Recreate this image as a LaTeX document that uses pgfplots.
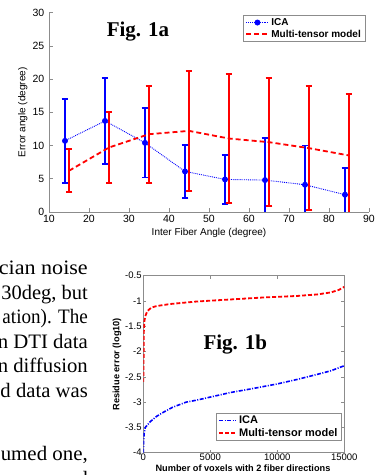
\documentclass[border=0pt]{standalone}
\usepackage{graphicx}
\usepackage{pgfplots}
\pgfplotsset{compat=1.18}
\usepackage{fontspec}
\setmainfont{Liberation Serif}
\newfontfamily\arial{Liberation Sans}
\definecolor{axgray}{RGB}{140,140,140}
\begin{document}
\begin{tikzpicture}
\useasboundingbox (0,0) rectangle (385pt,475pt);
\clip (0,0) rectangle (385pt,475pt);
\begin{scope}[every node/.style={anchor=base east, inner sep=0pt, font=\fontsize{20.5}{24}\selectfont}]
\node at (88pt,200pt) {\resizebox{89pt}{\height}{cian noise}};
\node at (88pt,175.5pt) {\resizebox{86.3pt}{\height}{30deg, but}};
\node at (88pt,151pt) {\resizebox{85.3pt}{\height}{ation). The}};
\node at (88pt,126.5pt) {\resizebox{90pt}{\height}{n DTI data}};
\node at (88pt,102pt) {\resizebox{90pt}{\height}{n diffusion}};
\node at (88pt,77.5pt) {\resizebox{87.3pt}{\height}{d data was}};
\node at (88pt,14pt) {\resizebox{87pt}{\height}{umed one,}};
\node at (88pt,-10.4pt) {and};
\end{scope}
% ---------------- Fig 1a ----------------
\begin{axis}[
  at={(49pt,263pt)}, anchor=south west,
  scale only axis, width=320pt, height=199.5pt,
  xmin=10, xmax=90, ymin=0, ymax=30,
  xtick={10,20,30,40,50,60,70,80,90},
  ytick={0,5,10,15,20,25,30},
  axis lines*=left,
  axis line style={axgray, line width=0.7pt},
  tick style={axgray, line width=0.5pt},
  tick align=inside, major tick length=3.5pt,
  /pgf/number format/assume math mode=true,
  ticklabel style={font=\arial\fontsize{10.5}{12}\selectfont},
  yticklabel style={inner sep=4.5pt},
  xlabel={Inter Fiber Angle (degree)},
  ylabel={Error angle (degree)},
  label style={font=\arial\fontsize{10}{12}\selectfont},
  xlabel style={at={(axis description cs:0.5,-0.105)}, anchor=center},
  ylabel style={at={(axis description cs:-0.082,0.5)}, anchor=center},
  legend style={at={(axis description cs:0.9875,0.987)}, anchor=north east,
    draw=axgray, font=\arial\bfseries\fontsize{10}{11}\selectfont,
    inner xsep=2pt, inner ysep=1pt, row sep=-1pt, cells={anchor=west}},
  legend image code/.code={\draw[mark repeat=2,mark phase=2,#1] plot coordinates {(0pt,0pt) (11pt,0pt) (22pt,0pt)};},
]
\addplot[blue, densely dotted, line width=0.9pt, mark=*, mark size=2.5pt,
  mark options={solid, fill=blue},
  error bars/.cd, y dir=both, y explicit,
  error bar style={solid, line width=1.8pt},
  error mark options={rotate=90, mark size=3.3pt, line width=1.8pt, solid}]
  table[x=x, y=y, y error=e] {
x y e
14 10.7 6.35
24 13.7 6.5
34 10.4 5.2
44 6.1 4.0
54 4.9 3.7
64 4.8 6.3
74 4.1 5.9
84 2.6 4.0
};
\addplot[red, dash pattern=on 5pt off 3pt, line width=1.8pt,
  error bars/.cd, y dir=both, y explicit,
  error bar style={solid, line width=1.8pt},
  error mark options={rotate=90, mark size=3.3pt, line width=1.8pt, solid}]
  table[x=x, y=y, y error=e] {
x y e
15 6.2 3.25
25 9.7 5.3
35 11.7 7.3
45 12.2 9.0
55 11.05 9.75
65 10.5 9.6
75 9.6 9.3
85 8.5 9.3
};
\legend{ICA, Multi-tensor model}
\end{axis}
\node[anchor=base, inner sep=0pt, font=\bfseries\fontsize{21}{24}\selectfont] at (138pt,438.5pt) {Fig. 1a};
% ---------------- Fig 1b ----------------
\begin{axis}[
  at={(143.3pt,22.3pt)}, anchor=south west,
  scale only axis, width=201pt, height=177pt,
  xmin=0, xmax=15000, ymin=-4, ymax=-0.5,
  xtick={0,5000,10000,15000}, xticklabels={0,5000,10000,15000},
  scaled x ticks=false,
  ytick={-4,-3.5,-3,-2.5,-2,-1.5,-1,-0.5},
  yticklabels={-4,-3.5,-3,-2.5,-2,-1.5,-1,-0.5},
  axis line style={axgray, line width=0.7pt},
  tick style={axgray, line width=0.5pt},
  tick align=inside, major tick length=3pt,
  ticklabel style={font=\arial\fontsize{9.5}{11}\selectfont},
  yticklabel style={inner sep=1.5pt},
  xticklabel style={inner sep=1.2pt},
  xlabel={Number of voxels with 2 fiber directions},
  ylabel={Residue error (log10)},
  label style={font=\arial\bfseries\fontsize{9.2}{11}\selectfont},
  xlabel style={at={(axis description cs:0.496,-0.086)}, anchor=center},
  ylabel style={at={(axis description cs:-0.131,0.5)}, anchor=center},
  legend style={at={(axis description cs:0.987,0.226)}, anchor=north east,
    draw=axgray, font=\arial\bfseries\fontsize{11}{12}\selectfont,
    inner xsep=2pt, inner ysep=1pt, row sep=-1pt, cells={anchor=west}},
  legend image code/.code={\draw[#1] (0pt,0pt) -- (17pt,0pt);},
]
\addplot[blue, dash pattern=on 4pt off 1.5pt on 1pt off 1.5pt, line width=1.6pt] table {
0 -4.0
20 -3.8
60 -3.62
150 -3.5
500 -3.39
1000 -3.28
1500 -3.2
2200 -3.1
3200 -3.0
4000 -2.96
5000 -2.9
6500 -2.81
8000 -2.74
9000 -2.69
10000 -2.64
11500 -2.55
13000 -2.45
14000 -2.38
15000 -2.28
};
\addplot[red, dash pattern=on 4pt off 2pt, line width=1.8pt] table {
0 -2.6
20 -2.2
40 -1.6
80 -1.4
150 -1.3
300 -1.2
600 -1.13
1000 -1.1
2000 -1.06
4000 -1.01
6500 -0.97
9000 -0.93
11500 -0.9
13000 -0.87
14000 -0.83
14600 -0.78
15000 -0.72
};
\legend{ICA, Multi-tensor model}
\end{axis}
\node[anchor=base, inner sep=0pt, font=\bfseries\fontsize{21}{24}\selectfont] at (235.3pt,125pt) {Fig. 1b};
\end{tikzpicture}
\end{document}
